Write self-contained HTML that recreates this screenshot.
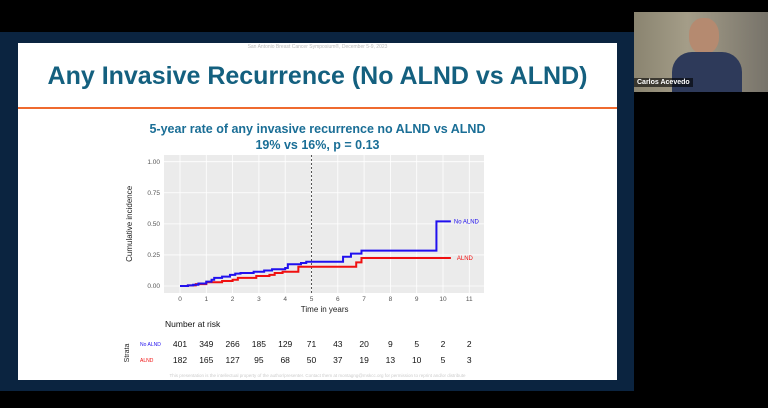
<!DOCTYPE html>
<html><head><meta charset="utf-8"><style>
body{margin:0;width:768px;height:408px;background:#000;position:relative;overflow:hidden;font-family:"Liberation Sans",sans-serif}
.a{position:absolute}
</style></head><body>
<div class="a" style="left:0;top:32px;width:634px;height:359px;background:#0b2440"></div>
<div class="a" style="left:18px;top:43px;width:599px;height:337px;background:#fff"></div>
<div class="a" style="left:18px;top:44px;width:599px;text-align:center;font-size:5px;color:#bbb">San Antonio Breast Cancer Symposium®, December 5-9, 2023</div>
<div class="a" style="left:18px;top:62px;width:599px;text-align:center;font-size:25px;font-weight:bold;color:#14607f">Any Invasive Recurrence (No ALND vs ALND)</div>
<div class="a" style="left:18px;top:107px;width:599px;height:2px;background:#ef6a2f"></div>
<div class="a" style="left:18px;top:121px;width:599px;text-align:center;font-size:12.5px;font-weight:bold;color:#1a6e96;line-height:16px">5-year rate of any invasive recurrence no ALND vs ALND<br>19% vs 16%, p = 0.13</div>
<div class="a" style="left:634px;top:12px;width:134px;height:80px;background:linear-gradient(90deg,#8a8470,#a49d88 40%,#77736a)">
 <div class="a" style="left:55px;top:6px;width:30px;height:36px;border-radius:45%;background:#b58a70"></div>
 <div class="a" style="left:38px;top:40px;width:70px;height:40px;border-radius:20px 20px 0 0;background:#2e3a5a"></div>
 <div class="a" style="left:0;top:66px;padding:1px 3px;background:rgba(0,0,0,.6);color:#fff;font-size:7px;font-weight:bold">Carlos Acevedo</div>
</div>
<svg class="a" style="left:0;top:0" width="768" height="408" id="chart"></svg>
<div class="a" style="left:18px;top:373px;width:599px;text-align:center;font-size:4.5px;color:#ccc">This presentation is the intellectual property of the author/presenter. Contact them at montagng@mskcc.org for permission to reprint and/or distribute</div>
<script>
const xTicks=[0,1,2,3,4,5,6,7,8,9,10,11];
const yTicks=[0,0.25,0.5,0.75,1.0];
const yTickLabels=["0.00","0.25","0.50","0.75","1.00"];
const noAlndTimes=[0,0.3,0.5,0.7,1.0,1.2,1.3,1.6,1.9,2.1,2.3,2.8,3.2,3.5,4.0,4.1,4.6,4.8,6.2,6.5,6.9,9.75];
const noAlndValues=[0,0.005,0.01,0.02,0.035,0.05,0.065,0.075,0.09,0.10,0.105,0.115,0.125,0.135,0.145,0.175,0.185,0.195,0.235,0.26,0.285,0.52];
const alndTimes=[0,0.3,0.6,1.0,1.6,2.0,2.2,2.9,3.4,3.6,3.9,4.5,6.7,6.9];
const alndValues=[0,0.005,0.015,0.03,0.04,0.05,0.065,0.08,0.09,0.105,0.115,0.155,0.19,0.225];
const endTime=10.3;
const riskNoAlnd=[401,349,266,185,129,71,43,20,9,5,2,2];
const riskAlnd=[182,165,127,95,68,50,37,19,13,10,5,3];
const svg=document.getElementById('chart');const NS='http://www.w3.org/2000/svg';
const X=t=>180+t*26.3, Y=v=>286-v*124.3;
function el(tag,attrs,parent){const e=document.createElementNS(NS,tag);for(const k in attrs)e.setAttribute(k,attrs[k]);(parent||svg).appendChild(e);return e;}
const panel=el('rect',{x:164,y:155,width:320,height:138,fill:'#ebebeb'});


xTicks.forEach(t=>{const g=el('line',{x1:X(t),x2:X(t),y1:155,y2:293,stroke:'#fff','stroke-width':0.8});


const tx=el('text',{x:X(t),y:301,'font-size':6.5,fill:'#555','text-anchor':'middle'});tx.textContent=t;

});
yTicks.forEach((v,i)=>{const g=el('line',{x1:164,x2:484,y1:Y(v),y2:Y(v),stroke:'#fff','stroke-width':0.8});


const tx=el('text',{x:160,y:Y(v)+2.2,'font-size':6.5,fill:'#555','text-anchor':'end'});tx.textContent=yTickLabels[i];

});
const dl=el('line',{x1:X(5),x2:X(5),y1:155,y2:293,stroke:'#555','stroke-width':1,'stroke-dasharray':'2,2'});


function step(times,vals){let d=`M${X(times[0])},${Y(vals[0])}`;for(let i=1;i<times.length;i++){d+=`H${X(times[i])}V${Y(vals[i])}`;}d+=`H${X(endTime)}`;return d;}
const pa=el('path',{d:step(alndTimes,alndValues),fill:'none',stroke:'#f01010','stroke-width':2});


const pn=el('path',{d:step(noAlndTimes,noAlndValues),fill:'none',stroke:'#2010ee','stroke-width':2});


const ln=el('text',{x:X(endTime)+3,y:Y(noAlndValues[noAlndValues.length-1])+2,'font-size':6,fill:'#2010ee'});ln.textContent='No ALND';


const la=el('text',{x:X(endTime)+6,y:Y(alndValues[alndValues.length-1])+2,'font-size':6,fill:'#f01010'});la.textContent='ALND';


const xt=el('text',{x:X(5.5),y:312,'font-size':8,fill:'#222','text-anchor':'middle'});xt.textContent='Time in years';


const yt=el('text',{x:0,y:0,'font-size':8,fill:'#222','text-anchor':'middle',transform:`translate(132,${Y(0.5)}) rotate(-90)`});yt.textContent='Cumulative incidence';


const nr=el('text',{x:165,y:327,'font-size':8.5,fill:'#111'});nr.textContent='Number at risk';


const st=el('text',{x:0,y:0,'font-size':7,fill:'#222','text-anchor':'middle',transform:'translate(129,353) rotate(-90)'});st.textContent='Strata';


const s1=el('text',{x:140,y:346,'font-size':5,fill:'#2010ee'});s1.textContent='No ALND';


const s2=el('text',{x:140,y:362,'font-size':5,fill:'#f01010'});s2.textContent='ALND';


xTicks.forEach((t,i)=>{const a=el('text',{x:X(t),y:347,'font-size':8.5,fill:'#111','text-anchor':'middle'});a.textContent=riskNoAlnd[i];


const b=el('text',{x:X(t),y:363,'font-size':8.5,fill:'#111','text-anchor':'middle'});b.textContent=riskAlnd[i];

});
</script>
</body></html>
